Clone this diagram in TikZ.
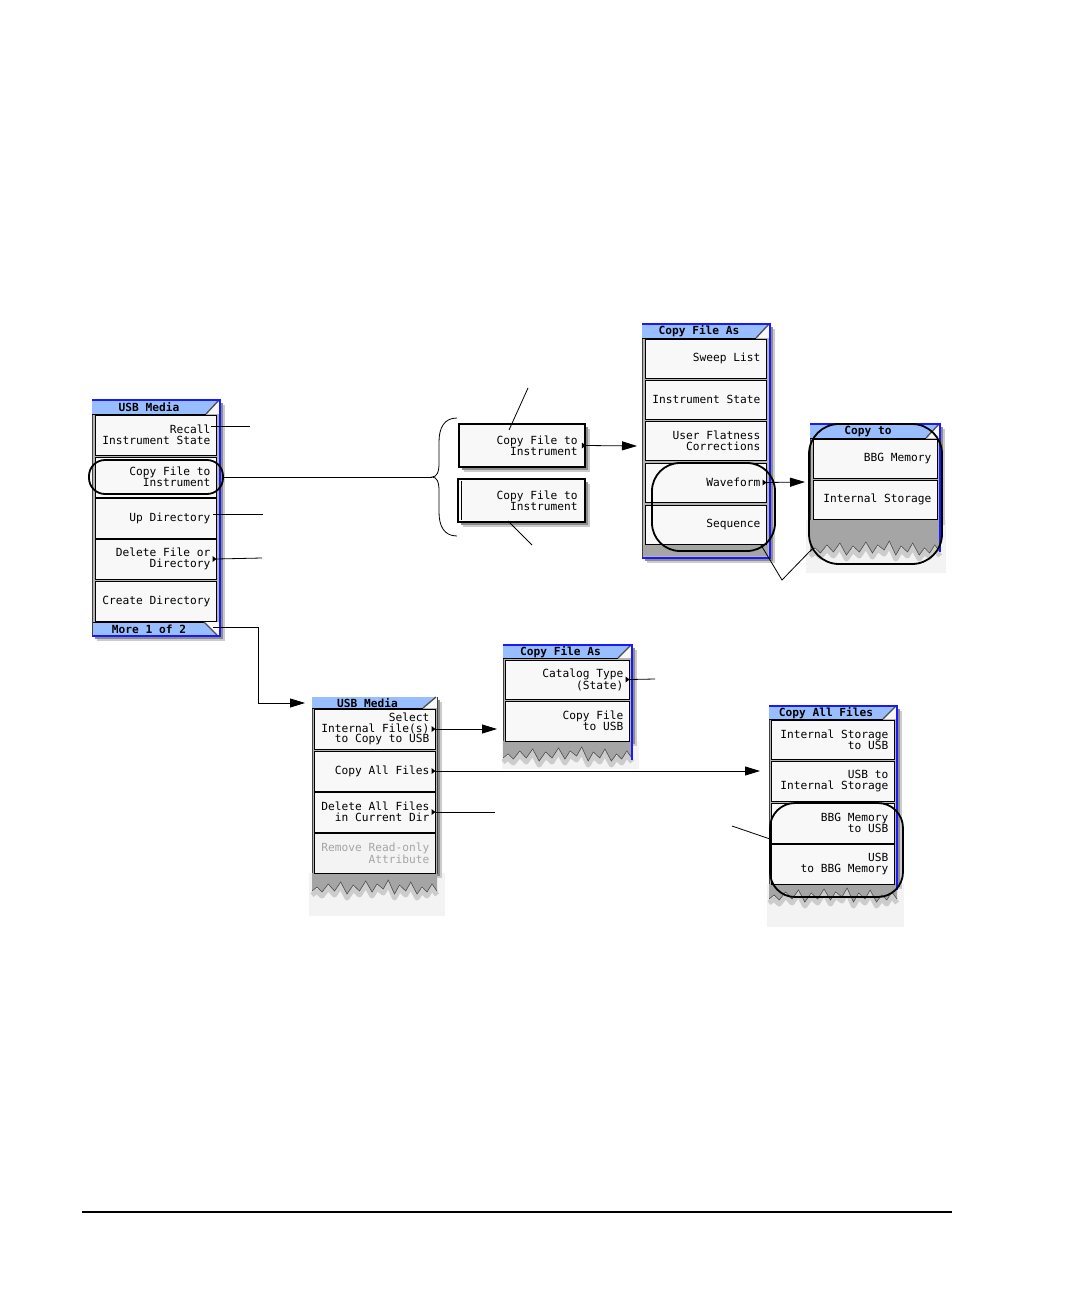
\documentclass[tikz,border=0pt]{standalone}
\usepackage{fontspec}
\newfontfamily\monofam{DejaVu Sans Mono}
\usetikzlibrary{arrows.meta,fit,calc}
\definecolor{tblue}{RGB}{153,190,255}
\definecolor{bblue}{RGB}{25,25,255}
\definecolor{pgray}{RGB}{180,180,180}
\definecolor{bfill}{RGB}{248,248,248}
\definecolor{tgray}{RGB}{165,165,165}
\definecolor{bgl}{RGB}{243,243,243}
\definecolor{sgray}{RGB}{140,140,140}
\definecolor{dimtext}{RGB}{165,165,165}
\newcommand\mfont{\monofam\fontsize{11.2}{10.8}\selectfont}
\newcommand\tfont{\monofam\bfseries\fontsize{11.2}{11}\selectfont}
\tikzset{
  btnbox/.style={draw=black, line width=1pt, fill=bfill, inner sep=0pt},
  btntext/.style={font=\mfont, align=right, inner sep=0pt, anchor=east},
  ttltext/.style={font=\tfont, inner sep=0pt},
  lead/.style={line width=0.8pt, draw=black},
  arr/.style={lead, -{Triangle[length=15pt,width=9pt]}},
  hilite/.style={draw=black, line width=1.8pt, inner sep=0pt},
}
\newcommand\mbtn[6]{%
  \node[btnbox, fit={(#2,#3) (#4,#5)}] (#1) {};
  \node[btntext] (#1t) at ($(#1.east)+(-6,0)$) {#6};}
\newcommand\tri[1]{\fill ($(#1.east)+(-4,-3)$) -- ++(4,3) -- ++(-4,3) -- cycle;}
\newcommand\mpanel[4]{%
  \fill[sgray!45] (#1+5,#2+5) rectangle (#3+5,#4+5);
  \fill[sgray] (#1+3,#2+3) rectangle (#3+3,#4+3);
  \fill[pgray] (#1,#2) rectangle (#3,#4);
  \draw[black!75, line width=1pt] (#1,#2) rectangle (#3,#4);}
\newcommand\mtitle[5]{%
  \fill[bfill] (#1,#2) rectangle (#3,#4);
  \fill[tblue] (#1,#2) -- (#3-1,#2) -- (#3-14,#4) -- (#1,#4) -- cycle;
  \draw[black, line width=1pt] (#1,#4) -- (#3-14,#4);
  \draw[black!70, line width=1.3pt] (#3-1,#2) -- (#3-14,#4);
  \node[ttltext] at ({(#1+#3-14)/2},{(#2+#4)/2+0.5}) {#5};}
\newcommand\torn[4]{%
  \pgfmathsetmacro\tornw{(#3-#1)/100}
  \begin{scope}[shift={(#1,#2)}, xscale=\tornw]
    \draw[gray!40, line width=5pt, line join=round, yshift=-4pt] (100,#4+2) -- (96,#4-5) -- (92,#4+3) -- (88,#4-2) -- (84,#4+5) -- (79,#4-7) -- (75,#4+2) -- (70,#4-4) -- (66,#4+5) -- (61,#4-9) -- (57,#4) -- (52,#4-5) -- (48,#4+3) -- (43,#4-8) -- (38,#4+2) -- (33,#4-4) -- (28,#4+5) -- (23,#4-7) -- (18,#4+2) -- (13,#4-5) -- (8,#4+3) -- (4,#4-2) -- (0,#4+2);
    \fill[tgray] (0,0) -- (100,0) -- (100,#4+2) -- (96,#4-5) -- (92,#4+3) -- (88,#4-2) -- (84,#4+5) -- (79,#4-7) -- (75,#4+2) -- (70,#4-4) -- (66,#4+5) -- (61,#4-9) -- (57,#4) -- (52,#4-5) -- (48,#4+3) -- (43,#4-8) -- (38,#4+2) -- (33,#4-4) -- (28,#4+5) -- (23,#4-7) -- (18,#4+2) -- (13,#4-5) -- (8,#4+3) -- (4,#4-2) -- (0,#4+2) -- cycle;
    \draw[gray!60!black, line width=0.6pt] (100,#4+2) -- (96,#4-5) -- (92,#4+3) -- (88,#4-2) -- (84,#4+5) -- (79,#4-7) -- (75,#4+2) -- (70,#4-4) -- (66,#4+5) -- (61,#4-9) -- (57,#4) -- (52,#4-5) -- (48,#4+3) -- (43,#4-8) -- (38,#4+2) -- (33,#4-4) -- (28,#4+5) -- (23,#4-7) -- (18,#4+2) -- (13,#4-5) -- (8,#4+3) -- (4,#4-2) -- (0,#4+2);
  \end{scope}}
\begin{document}
\begin{tikzpicture}[x=1pt,y=-1pt]
\useasboundingbox (0,0) rectangle (1081,1297);
\fill[white] (0,0) rectangle (1081,1297);

% ===== Menu A: USB Media (top left)
\mpanel{92}{400}{220}{636}
\mtitle{92}{400}{220}{414}{USB Media}
\mbtn{a1}{95}{415}{216}{455}{Recall\\Instrument State}
\mbtn{a2}{95}{457}{216}{497}{Copy File to\\Instrument}
\mbtn{a3}{95}{498}{216}{538}{Up Directory}
\mbtn{a4}{95}{539}{216}{579}{Delete File or\\Directory}
\tri{a4}
\mbtn{a5}{95}{581}{216}{621}{Create Directory}
\fill[bfill] (93,622) rectangle (219,636);
\fill[tblue] (93,622) -- (204,622) -- (217,635) -- (93,635) -- cycle;
\draw[black, line width=1pt] (93,622) -- (204,622);
\draw[black!70, line width=1.3pt] (204,622) -- (217,635);
\node[ttltext] (amore) at (149,629) {More 1 of 2};
\draw[bblue, line width=2pt] (92,400) -- (220,400) -- (220,636) -- (92,636);

% ===== Standalone buttons
\fill[sgray!45] (464,429) rectangle (590,472);
\fill[sgray] (462,427) rectangle (588,470);
\node[btnbox, line width=1.6pt, fit={(459,424) (585,467)}] (g1) {};
\node[btntext] (g1t) at ($(g1.east)+(-8,0)$) {Copy File to\\Instrument};
\tri{g1}
\fill[sgray!45] (463,484) rectangle (590,527);
\fill[sgray] (461,482) rectangle (588,525);
\node[btnbox, line width=1.6pt, fit={(458,479) (585,522)}] (g2) {};
\draw[black, line width=0.8pt] (461,481) -- (461,520);
\node[btntext] (g2t) at ($(g2.east)+(-8,0)$) {Copy File to\\Instrument};

% ===== Menu B: Copy File As (top)
\mpanel{642}{324}{770}{558}
\mtitle{642}{324}{770}{338}{Copy File As}
\mbtn{b1}{645}{339}{766}{378}{Sweep List}
\mbtn{b2}{645}{380}{766}{419}{Instrument State}
\mbtn{b3}{645}{421}{766}{460}{User Flatness\\Corrections}
\mbtn{b4}{645}{463}{766}{502}{Waveform}
\tri{b4}
\mbtn{b5}{645}{505}{766}{544}{Sequence}
\fill[tgray] (643,545) rectangle (768,556);
\draw[bblue, line width=2pt] (642,324) -- (770,324) -- (770,558) -- (642,558);

% ===== Menu C: Copy to
\fill[bgl] (806,520) rectangle (946,573);
\mpanel{810}{424}{940}{520}
\torn{810}{520}{940}{30}
\mtitle{810}{424}{940}{438}{Copy to}
\mbtn{c1}{813}{439}{937}{478}{BBG Memory}
\mbtn{c2}{813}{480}{937}{519}{Internal Storage}
\draw[bblue, line width=2pt] (810,424) -- (940,424) -- (940,552);

% ===== Menu D: USB Media (bottom)
\fill[bgl] (309,873) rectangle (445,916);
\mpanel{312}{697}{437}{873}
\torn{312}{873}{437}{16}
\mtitle{312}{697}{437}{708}{USB Media}
\mbtn{d1}{314}{709}{435}{749}{Select\\Internal File(s)\\to Copy to USB}
\tri{d1}
\mbtn{d2}{314}{751}{435}{791}{Copy All Files}
\tri{d2}
\mbtn{d3}{314}{792}{435}{832}{Delete All Files\\in Current Dir}
\tri{d3}
\node[btnbox, fill=bgl, fit={(314,833) (435,873)}] (d4) {};
\node[btntext, text=dimtext] (d4t) at ($(d4.east)+(-6,0)$) {Remove Read-only\\Attribute};

% ===== Menu E: Copy File As (bottom)
\fill[bgl] (502,741) rectangle (639,769);
\mpanel{503}{645}{632}{741}
\torn{503}{741}{632}{15}
\mtitle{503}{645}{632}{658}{Copy File As}
\mbtn{e1}{505}{660}{629}{699}{Catalog Type\\(State)}
\tri{e1}
\mbtn{e2}{505}{701}{629}{741}{Copy File\\to USB}
\draw[bblue, line width=2pt] (503,645) -- (632,645) -- (632,760);

% ===== Menu F: Copy All Files
\fill[bgl] (767,884) rectangle (904,927);
\mpanel{769}{706}{897}{884}
\torn{769}{884}{897}{13}
\mtitle{769}{706}{897}{719}{Copy All Files}
\mbtn{f1}{771}{720}{894}{759}{Internal Storage\\to USB}
\mbtn{f2}{771}{761}{894}{801}{USB to\\Internal Storage}
\mbtn{f3}{771}{803}{894}{843}{BBG Memory\\to USB}
\mbtn{f4}{771}{844}{894}{884}{USB\\to BBG Memory}
\draw[bblue, line width=2pt] (769,706) -- (897,706) -- (897,890);

% ===== Highlights
\node[hilite, rounded corners=16pt, fit={(89,460) (223,494)}] (h1) {};
\node[hilite, rounded corners=28pt, fit={(652,463) (775,551)}] (h2) {};
\node[hilite, rounded corners=30pt, fit={(809,424) (942,564)}] (h3) {};
\node[hilite, rounded corners=25pt, fit={(770,803) (903,897)}] (h4) {};

% ===== Coordinates
\coordinate (recA) at (211,426);  \coordinate (recB) at (250,426);
\coordinate (upA) at (213,514);   \coordinate (upB) at (263,514);
\coordinate (delA) at (216,559);  \coordinate (delB) at (262,558);
\coordinate (morA) at (213,627);  \coordinate (morB) at (258,627);
\coordinate (morC) at (258,703);  \coordinate (morD) at (305,703);
\coordinate (bt) at (432,477);
\coordinate (toB) at (637,446);
\coordinate (toC) at (805,482);
\coordinate (cl1a) at (509,430);  \coordinate (cl1b) at (528,388);
\coordinate (cl2a) at (508,521);  \coordinate (cl2b) at (532,545);
\coordinate (va) at (782,580);    \coordinate (vb) at (761,545);  \coordinate (vc) at (812,549);
\coordinate (toE) at (497,729);
\coordinate (toF) at (760,771);
\coordinate (delD) at (495,812);
\coordinate (catE) at (655,679);
\coordinate (fcA) at (732,826);   \coordinate (fcB) at (770,839);
\coordinate (ruleA) at (82,1212); \coordinate (ruleB) at (952,1212);

% ===== Connectors
\draw[lead] (recA) -- (recB);
\draw[lead] (h1.east) -- (bt);
\draw[lead] (upA) -- (upB);
\draw[lead] (delA) -- (delB);
\draw[lead] (morA) -- (morB) -- (morC);
\draw[arr] (morC) -- (morD);
\draw[lead] (457,418) .. controls (444,418) and (439,428) .. (439,442) -- (439,463) .. controls (439,472) and (437,477) .. (bt) .. controls (437,477) and (439,482) .. (439,491) -- (439,512) .. controls (439,526) and (444,536) .. (457,536);
\draw[arr] (g1.east) -- (toB);
\draw[lead] (cl1a) -- (cl1b);
\draw[lead] (cl2a) -- (cl2b);
\draw[arr] (b4.east) -- (toC);
\draw[lead] (vb) -- (va) -- (vc);
\draw[arr] (d1.east) -- (toE);
\draw[arr] (d2.east) -- (toF);
\draw[lead] (d3.east) -- (delD);
\draw[lead] (e1.east) -- (catE);
\draw[lead] (fcA) -- (fcB);
\draw[line width=2pt] (ruleA) -- (ruleB);
\end{tikzpicture}
\end{document}
